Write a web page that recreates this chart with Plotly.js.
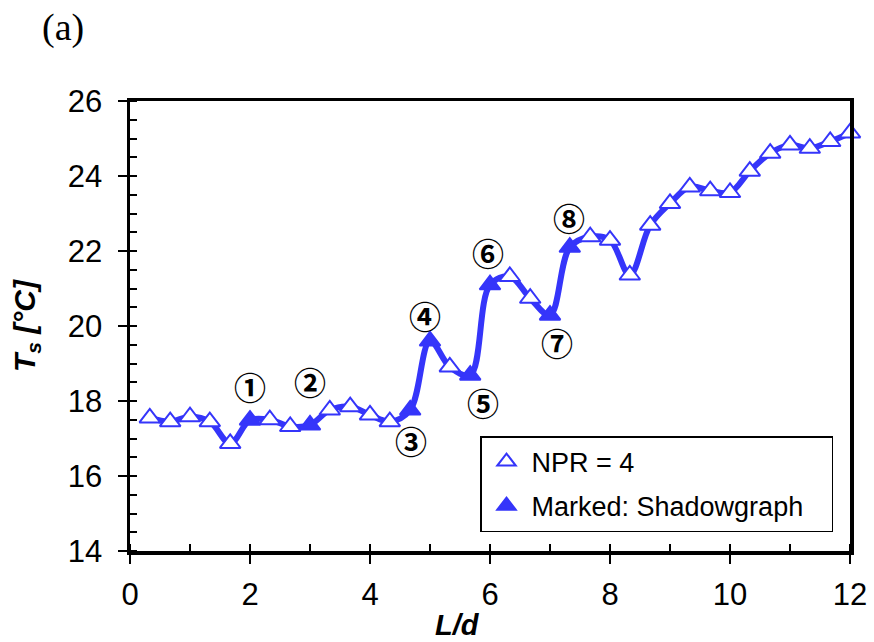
<!DOCTYPE html>
<html>
<head>
<meta charset="utf-8">
<script src="https://cdn.plot.ly/plotly-3.0.1.min.js"></script>
<style>
  html, body { margin: 0; padding: 0; background: #ffffff; }
  #chart { width: 874px; height: 642px; }
</style>
</head>
<body>
<div id="chart"></div>
<script>
// Surface temperature along the jet axis, NPR = 4
const Ld = [0.33, 0.67, 1.00, 1.33, 1.67, 2.00, 2.33, 2.67, 3.00, 3.33, 3.67, 4.00,
            4.33, 4.67, 5.00, 5.33, 5.67, 6.00, 6.33, 6.67, 7.00, 7.33, 7.67, 8.00,
            8.33, 8.67, 9.00, 9.33, 9.67, 10.00, 10.33, 10.67, 11.00, 11.33, 11.67, 12.00];
const Ts = [17.55, 17.45, 17.58, 17.45, 16.87, 17.49, 17.50, 17.32, 17.36, 17.76, 17.85, 17.63,
            17.45, 17.76, 19.60, 18.91, 18.69, 21.10, 21.32, 20.74, 20.29, 22.10, 22.38, 22.29,
            21.36, 22.69, 23.27, 23.71, 23.61, 23.56, 24.13, 24.61, 24.83, 24.74, 24.92, 25.15];

// Points with a shadowgraph image, and their circled labels
const shadowIdx = [5, 8, 13, 14, 16, 17, 20, 21];
const shadowLabels = ['①', '②', '③', '④', '⑤', '⑥', '⑦', '⑧'];
// label placement (L/d, Ts) next to each marked point
const labelPos = [[2.00, 18.40], [3.00, 18.53], [4.69, 16.97], [4.92, 20.30],
                  [5.88, 17.98], [5.96, 21.98], [7.11, 19.58], [7.32, 22.91]];

const tickVals = [0, 2, 4, 6, 8, 10, 12];
const yTickVals = [14, 16, 18, 20, 22, 24, 26];

const BLUE = '#3535FA';
const FONT = 'Liberation Sans, Arial, sans-serif';
const NBSP = '\u00a0';

// plot-area box in pixels, used to place the free-standing labels
const PL = 130, PR = 850, PT = 101, PB = 551;
const px2paperX = v => (v - PL) / (PR - PL);
const px2paperY = v => (PB - v) / (PB - PT);

const openX = Ld.filter((_, i) => !shadowIdx.includes(i));
const openY = Ts.filter((_, i) => !shadowIdx.includes(i));
const markX = shadowIdx.map(i => Ld[i]);
const markY = shadowIdx.map(i => Ts[i]);

const traces = [
  {
    x: Ld, y: Ts, type: 'scatter', mode: 'lines', cliponaxis: false,
    line: { color: BLUE, width: 6, shape: 'spline', smoothing: 1 },
    showlegend: false, hoverinfo: 'skip'
  },
  {
    x: openX, y: openY, type: 'scatter', mode: 'markers', name: 'NPR = 4',
    legendgroup: 'a', cliponaxis: false,
    marker: { symbol: 'triangle-up', size: 18, color: '#ffffff', line: { color: BLUE, width: 2 } }
  },
  {
    x: markX, y: markY, type: 'scatter', mode: 'markers',
    name: 'Marked: Shadowgraph' + NBSP.repeat(3),
    legendgroup: 'b', cliponaxis: false,
    marker: { symbol: 'triangle-up', size: 18, color: BLUE, line: { color: BLUE, width: 2 } }
  }
];

const annotations = shadowLabels.map((t, k) => ({
  x: labelPos[k][0], y: labelPos[k][1], xref: 'x', yref: 'y',
  xanchor: 'center', yanchor: 'middle',
  text: '<b>' + t + '</b>', showarrow: false,
  font: { family: 'Noto Sans CJK JP, DejaVu Sans, sans-serif', size: 32, color: '#000000', weight: 'bold' }
}));

annotations.push({
  x: px2paperX(457), y: px2paperY(625), xref: 'paper', yref: 'paper',
  xanchor: 'center', yanchor: 'middle',
  text: '<b><i>L/d</i></b>', showarrow: false,
  font: { family: FONT, size: 29, color: '#000000' }
});

annotations.push({
  x: px2paperX(63), y: px2paperY(27), xref: 'paper', yref: 'paper',
  xanchor: 'center', yanchor: 'middle',
  text: '(a)', showarrow: false,
  font: { family: 'Liberation Serif, Times New Roman, serif', size: 38, color: '#000000' }
});

const axisCommon = {
  showgrid: false, zeroline: false,
  showline: true, linecolor: '#000000', linewidth: 3.5, mirror: true,
  ticks: 'outside', ticklen: 9, tickwidth: 2.5, tickcolor: '#000000',
  tickfont: { family: FONT, size: 31, color: '#000000' }
};

const layout = {
  width: 874, height: 642,
  margin: { l: PL, r: 874 - PR, t: PT, b: 642 - PB },
  paper_bgcolor: '#ffffff', plot_bgcolor: '#ffffff',
  showlegend: true,
  legend: {
    x: px2paperX(480), y: px2paperY(532), xanchor: 'left', yanchor: 'bottom',
    bgcolor: '#ffffff', bordercolor: '#000000', borderwidth: 1.5,
    font: { family: FONT, size: 27, color: '#000000' },
    itemwidth: 40, tracegroupgap: 6
  },
  xaxis: Object.assign({}, axisCommon, {
    range: [0, 12], tickvals: tickVals, ticktext: tickVals.map(String),
    ticklabelstandoff: 4,
    minor: { dtick: 1, ticks: 'inside', ticklen: 7, tickwidth: 2, tickcolor: '#000000' }
  }),
  xaxis2: {
    overlaying: 'x', anchor: 'y', side: 'bottom', range: [0, 12],
    tickvals: tickVals, ticks: 'inside', ticklen: 9, tickwidth: 2.5, tickcolor: '#000000',
    showticklabels: false, showline: false, showgrid: false, zeroline: false
  },
  yaxis: Object.assign({}, axisCommon, {
    range: [14, 26], tickvals: yTickVals, ticktext: yTickVals.map(String),
    ticklabelstandoff: 9,
    minor: { dtick: 0.5, ticks: 'inside', ticklen: 7, tickwidth: 2, tickcolor: '#000000' },
    title: { text: '<b><i>T<sub>s</sub> [°C]</i></b>', font: { family: FONT, size: 30, color: '#000000' }, standoff: 24 }
  }),
  yaxis2: {
    overlaying: 'y', anchor: 'x', side: 'left', range: [14, 26],
    tickvals: yTickVals, ticks: 'inside', ticklen: 9, tickwidth: 2.5, tickcolor: '#000000',
    showticklabels: false, showline: false, showgrid: false, zeroline: false
  },
  annotations: annotations
};

Plotly.newPlot('chart', traces, layout, { displayModeBar: false, staticPlot: true });
</script>
</body>
</html>
